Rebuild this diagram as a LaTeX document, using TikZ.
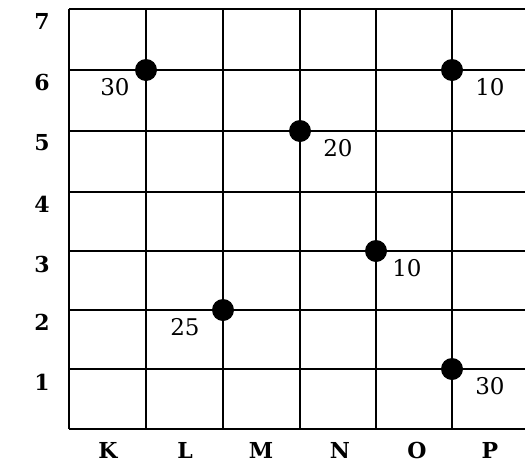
\documentclass[tikz,border=0pt]{standalone}
\usepackage{fontspec}
\setmainfont{DejaVu Serif}
\newcommand\axtxt{\fontsize{22pt}{26pt}\selectfont\bfseries}
\newcommand\numtxt{\fontsize{23pt}{27pt}\selectfont}
\begin{document}
\begin{tikzpicture}[x=1pt,y=-1pt,
  gridline/.style={line width=2.6pt,black},
  dot/.style={circle,fill=black,inner sep=0pt,minimum size=22pt},
  axislbl/.style={inner sep=0pt,font=\axtxt},
  numlbl/.style={inner sep=0pt,font=\numtxt}]
\useasboundingbox (0,0) rectangle (525,464);
% vertical lines
\foreach \x in {69,146,223,300,376,452}
  \draw[gridline] (\x,9) -- (\x,429);
% horizontal lines
\foreach \y in {9,70,131,192,251,310,369,429}
  \draw[gridline] (69,\y) -- (526,\y);
% row labels
\node[axislbl] (r7) at (42,21) {7};
\node[axislbl] (r6) at (42,82) {6};
\node[axislbl] (r5) at (42,143) {5};
\node[axislbl] (r4) at (42,204) {4};
\node[axislbl] (r3) at (42,264) {3};
\node[axislbl] (r2) at (42,322) {2};
\node[axislbl] (r1) at (42,382) {1};
% column labels
\node[axislbl] (cK) at (108,450) {K};
\node[axislbl] (cL) at (185,450) {L};
\node[axislbl] (cM) at (261,450) {M};
\node[axislbl] (cN) at (340,450) {N};
\node[axislbl] (cO) at (417,450) {O};
\node[axislbl] (cP) at (490,450) {P};
% dots
\node[dot] (d1) at (146,70) {};
\node[dot] (d2) at (452,70) {};
\node[dot] (d3) at (300,131) {};
\node[dot] (d4) at (376,251) {};
\node[dot] (d5) at (223,310) {};
\node[dot] (d6) at (452,369) {};
% values
\node[numlbl] (v1) at (115,87) {30};
\node[numlbl] (v2) at (490,87) {10};
\node[numlbl] (v3) at (338,148) {20};
\node[numlbl] (v4) at (407,268) {10};
\node[numlbl] (v5) at (185,327) {25};
\node[numlbl] (v6) at (490,386) {30};
\end{tikzpicture}
\end{document}
